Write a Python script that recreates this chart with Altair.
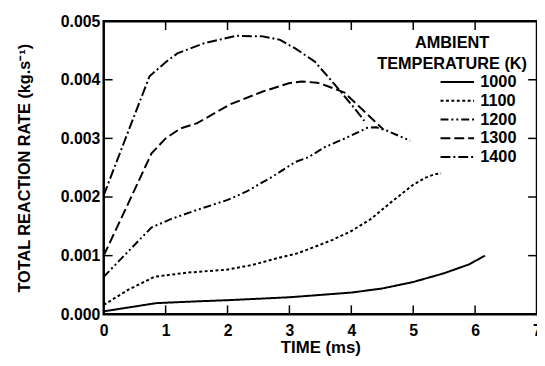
import altair as alt
import pandas as pd

# ---- data ----
temps = ["1000", "1100", "1200", "1300", "1400"]

t1000_time = [0, 0.85, 1.5, 2.0, 3.0, 4.0, 4.5, 5.0, 5.5, 5.9, 6.16]
t1000_rate = [0.00005, 0.00019, 0.00022, 0.00024, 0.00029, 0.00037, 0.00044, 0.00055, 0.00070, 0.00085, 0.00100]

t1100_time = [0, 0.4, 0.82, 1.35, 1.98, 2.4, 2.78, 3.1, 3.31, 3.7, 4.0, 4.31, 4.63, 5.0, 5.2, 5.35, 5.45]
t1100_rate = [0.00016, 0.00042, 0.00064, 0.00071, 0.00076, 0.00084, 0.00095, 0.00103, 0.00111, 0.00127, 0.00142, 0.00162, 0.00190, 0.00221, 0.00233, 0.00239, 0.00240]

t1200_time = [0, 0.77, 1.1, 1.51, 2.0, 2.3, 2.73, 3.1, 3.31, 3.57, 3.94, 4.26, 4.40, 4.58, 4.95]
t1200_rate = [0.00064, 0.00148, 0.00163, 0.00178, 0.00195, 0.00209, 0.00235, 0.00260, 0.00268, 0.00285, 0.00302, 0.00318, 0.00319, 0.00313, 0.00296]

t1300_time = [0, 0.4, 0.77, 1.0, 1.24, 1.51, 2.04, 2.57, 2.99, 3.2, 3.45, 3.62, 3.89, 4.15, 4.52]
t1300_rate = [0.00100, 0.00190, 0.00274, 0.00300, 0.00317, 0.00326, 0.00358, 0.00380, 0.00394, 0.00397, 0.00395, 0.00389, 0.00378, 0.00352, 0.00315]

t1400_time = [0, 0.4, 0.74, 1.0, 1.19, 1.61, 2.14, 2.57, 2.85, 3.1, 3.41, 3.73, 4.0, 4.21]
t1400_rate = [0.00203, 0.00313, 0.00406, 0.00430, 0.00445, 0.00462, 0.00475, 0.00474, 0.00468, 0.00453, 0.00431, 0.00392, 0.00358, 0.00330]

x_tick_values = [0, 1, 2, 3, 4, 5, 6, 7]
y_tick_values = [0.000, 0.001, 0.002, 0.003, 0.004, 0.005]
x_inner_ticks = [1, 2, 3, 4, 5, 6]
y_inner_ticks = [0.001, 0.002, 0.003, 0.004]

series = {
    "1000": (t1000_time, t1000_rate),
    "1100": (t1100_time, t1100_rate),
    "1200": (t1200_time, t1200_rate),
    "1300": (t1300_time, t1300_rate),
    "1400": (t1400_time, t1400_rate),
}
rows = []
for name, (xs, ys) in series.items():
    for i, (x, y) in enumerate(zip(xs, ys)):
        rows.append({"T": name, "time": x, "rate": y, "i": i})
df = pd.DataFrame(rows)

W, H = 439, 297
FONT = "Liberation Sans"

xscale = alt.Scale(domain=[0, 7], nice=False, zero=False)
yscale = alt.Scale(domain=[0, 0.005], nice=False)

dashes = [[1, 0], [3, 2.5], [8, 3, 2, 3, 2, 3], [10, 4], [10, 3, 2, 3]]

lines = alt.Chart(df).mark_line(strokeWidth=2, color="black").encode(
    x=alt.X("time:Q", scale=xscale,
            axis=alt.Axis(values=x_tick_values, title="TIME (ms)", format="d",
                          labelFontSize=16, labelFontWeight="bold", labelFont=FONT,
                          labelColor="black", labelPadding=9, labelFlush=False,
                          domain=False, ticks=False, tickSize=0, grid=False,
                          titleFontSize=17, titleFont=FONT, titleFontWeight="bold",
                          titleColor="black", titleY=39, titleBaseline="alphabetic")),
    y=alt.Y("rate:Q", scale=yscale,
            axis=alt.Axis(values=y_tick_values, format=".3f",
                          title="TOTAL REACTION RATE (kg.s\u207b\u00b9)",
                          labelFontSize=16, labelFontWeight="bold", labelFont=FONT,
                          labelColor="black", labelPadding=4, labelFlush=False,
                          domain=False, ticks=False, tickSize=0, grid=False,
                          titleFontSize=16.5, titleFont=FONT, titleFontWeight="bold",
                          titleColor="black", titleX=-72, titleY=H / 2,
                          titleAlign="center", titleBaseline="bottom", titleAngle=270)),
    strokeDash=alt.StrokeDash("T:N", scale=alt.Scale(domain=temps, range=dashes),
                              legend=alt.Legend(
                                  title=["AMBIENT", "TEMPERATURE (K)"],
                                  orient="none", legendX=277, legendY=14,
                                  direction="vertical", padding=0,
                                  titleFont=FONT, titleFontSize=16.5, titleFontWeight="bold",
                                  titleColor="black", titleAlign="center", titleAnchor="middle",
                                  titleLineHeight=21, titlePadding=2, titleBaseline="top",
                                  labelFont=FONT, labelFontSize=16.5, labelFontWeight="bold",
                                  labelColor="black", labelOffset=77,
                                  symbolType="M45,0H79", symbolSize=4,
                                  symbolStrokeWidth=2, symbolStrokeColor="black",
                                  symbolFillColor="transparent",
                                  rowPadding=2)),
    order="i:Q",
)

xt = pd.DataFrame({"t": x_inner_ticks})
yt = pd.DataFrame({"v": y_inner_ticks})
TL = 9
tick_style = dict(color="black", strokeWidth=1.5)

bottom_ticks = alt.Chart(xt).mark_rule(**tick_style).encode(
    x=alt.X("t:Q", scale=xscale), y=alt.value(H), y2=alt.value(H - TL))
top_ticks = alt.Chart(xt).mark_rule(**tick_style).encode(
    x=alt.X("t:Q", scale=xscale), y=alt.value(0), y2=alt.value(TL))
left_ticks = alt.Chart(yt).mark_rule(**tick_style).encode(
    y=alt.Y("v:Q", scale=yscale), x=alt.value(0), x2=alt.value(TL))
right_ticks = alt.Chart(yt).mark_rule(**tick_style).encode(
    y=alt.Y("v:Q", scale=yscale), x=alt.value(W), x2=alt.value(W - TL))

chart = alt.layer(lines, bottom_ticks, top_ticks, left_ticks, right_ticks).properties(
    width=W, height=H,
    padding={"left": 97, "top": 11, "right": 0, "bottom": 42},
    autosize=alt.AutoSizeParams(type="none"),
    background="white",
).configure_view(
    stroke="black", strokeWidth=2.5
)

chart.save("out.html", embed_options={"renderer": "svg", "actions": False})
